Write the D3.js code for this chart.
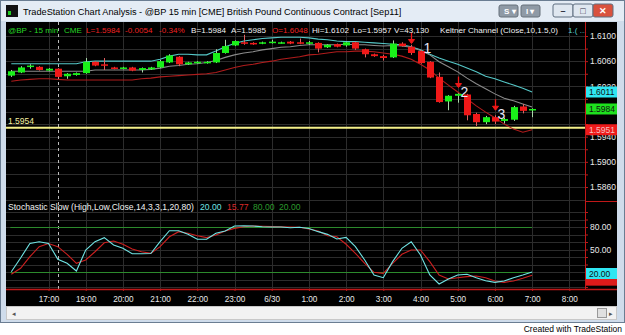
<!DOCTYPE html>
<html>
<head>
<meta charset="utf-8">
<script src="https://cdn.jsdelivr.net/npm/d3@7"></script>
<style>
  body { margin: 0; background: #fff; }
  svg  { display: block; font-family: "Liberation Sans", Arial, sans-serif; }
</style>
</head>
<body>
<svg id="chart" width="625" height="335"></svg>
<script>
/* ---------- data (15 min bars, @BP) ---------- */
const open  = [1.6037,1.6042,1.6052,1.6051,1.6045,1.6048,1.6036,1.6038,1.6041,1.6059,
               1.6055,1.6050,1.6048,1.6050,1.6046,1.6047,1.6050,1.6058,1.6067,1.6055,
               1.6057,1.6057,1.6058,1.6073,1.6085,1.6090,1.6089,1.6088,1.6089,1.6089,
               1.6091,1.6090,1.6088,1.6089,1.6082,1.6087,1.6085,1.6090,1.6079,1.6071,
               1.6068,1.6066,1.6088,1.6083,1.6076,1.6059,1.6035,1.5996,1.6005,1.6007,
               1.5976,1.5963,1.5971,1.5965,1.5967,1.5988,1.5982];
const high  = [1.6046,1.6052,1.6055,1.6052,1.6049,1.6049,1.6041,1.6042,1.6065,1.6060,
               1.6065,1.6051,1.6051,1.6051,1.6050,1.6051,1.6062,1.6071,1.6068,1.6059,
               1.6060,1.6060,1.6079,1.6094,1.6093,1.6102,1.6090,1.6091,1.6094,1.6091,
               1.6092,1.6096,1.6092,1.6090,1.6087,1.6088,1.6091,1.6091,1.6080,1.6072,
               1.6070,1.6093,1.6090,1.6086,1.6078,1.6060,1.6042,1.6006,1.6009,1.6008,
               1.5978,1.5973,1.5974,1.5970,1.5989,1.5992,1.5985];
const low   = [1.6035,1.6041,1.6048,1.6045,1.6044,1.6034,1.6032,1.6037,1.6040,1.6052,
               1.6046,1.6047,1.6047,1.6044,1.6042,1.6046,1.6049,1.6057,1.6052,1.6054,
               1.6056,1.6056,1.6057,1.6072,1.6084,1.6086,1.6086,1.6087,1.6088,1.6088,
               1.6087,1.6087,1.6086,1.6074,1.6081,1.6082,1.6083,1.6078,1.6066,1.6067,
               1.6061,1.6065,1.6083,1.6070,1.6056,1.6033,1.5994,1.5982,1.5994,1.5966,
               1.5957,1.5960,1.5960,1.5961,1.5965,1.5977,1.5971];
const close = [1.6044,1.6050,1.6053,1.6046,1.6048,1.6035,1.6040,1.6041,1.6059,1.6053,
               1.6054,1.6048,1.6050,1.6045,1.6049,1.6050,1.6060,1.6069,1.6055,1.6058,
               1.6059,1.6059,1.6073,1.6084,1.6092,1.6088,1.6087,1.6090,1.6091,1.6090,
               1.6088,1.6088,1.6090,1.6080,1.6086,1.6083,1.6090,1.6080,1.6071,1.6068,
               1.6065,1.6088,1.6084,1.6073,1.6057,1.6034,1.5995,1.6005,1.6008,1.5974,
               1.5963,1.5971,1.5964,1.5968,1.5987,1.5981,1.5984];

// Keltner Channel (Close,10,1.5,0)
const kcUpper = [1.6056,1.6056,1.6056,1.6056,1.6056,1.6056,1.6056,1.6056,1.6059,1.6060,
                 1.6060,1.6060,1.6060,1.6060,1.6060,1.6060,1.6063,1.6068,1.6071,1.6071,
                 1.6070,1.6070,1.6076,1.6083,1.6088,1.6092,1.6094,1.6096,1.6097,1.6098,
                 1.6098,1.6098,1.6097,1.6095,1.6094,1.6092,1.6091,1.6091,1.6090,1.6089,
                 1.6088,1.6087,1.6086,1.6083,1.6078,1.6071,1.6065,1.6060,1.6055,1.6049,
                 1.6043,1.6036,1.6032,1.6027,1.6022,1.6017,1.6011];
const kcMid   = [1.6044,1.6044,1.6044,1.6044,1.6044,1.6044,1.6044,1.6044,1.6044,1.6046,
                 1.6046,1.6046,1.6046,1.6046,1.6046,1.6047,1.6049,1.6052,1.6053,1.6055,
                 1.6056,1.6058,1.6061,1.6066,1.6070,1.6073,1.6075,1.6078,1.6080,1.6082,
                 1.6083,1.6085,1.6086,1.6086,1.6086,1.6086,1.6087,1.6086,1.6086,1.6085,
                 1.6084,1.6085,1.6084,1.6082,1.6077,1.6070,1.6059,1.6051,1.6043,1.6033,
                 1.6024,1.6016,1.6008,1.6001,1.5997,1.5992,1.5987];
const kcLower = [1.6028,1.6030,1.6031,1.6032,1.6032,1.6031,1.6030,1.6030,1.6030,1.6030,
                 1.6030,1.6030,1.6030,1.6030,1.6032,1.6033,1.6035,1.6036,1.6037,1.6038,
                 1.6039,1.6040,1.6042,1.6046,1.6050,1.6053,1.6055,1.6058,1.6060,1.6063,
                 1.6065,1.6067,1.6070,1.6071,1.6073,1.6075,1.6075,1.6076,1.6076,1.6075,
                 1.6073,1.6071,1.6068,1.6063,1.6055,1.6046,1.6033,1.6022,1.6011,1.6000,
                 1.5989,1.5979,1.5970,1.5960,1.5952,1.5947,1.5951];

// Stochastic Slow (High,Low,Close,14,3,3,1,20,80)
const stochK = [20.4,38.7,58,60.4,58,37,31.6,21.3,49.3,60.4,
                65.8,56,51.6,44.4,44.4,44.7,60.4,75,75,70.2,
                63.6,63.6,71.6,74.7,81.3,81.6,81.3,80.4,80,80,
                79,79.6,78,73.8,70.2,64,66.2,53.8,36,16,
                12.4,33.8,51.6,60.4,42.7,16,4,10.7,16,17,
                12.4,8.4,6.2,8,12.4,16,20.0];
const stochD = [17,25,40.4,53.8,58,53.8,43.6,31.6,36,47,
                59,61.3,57,50.7,47,44.9,53.8,67,73.8,71.6,
                68.4,65.8,69.3,74.7,78.2,80.4,81.3,81,80.5,80.2,
                80,79.6,77.3,74.7,68.4,67,57,44.9,31.6,19.6,
                18.2,31.6,43.6,49.3,49.3,33.8,16,10.7,12.4,13.8,
                14.7,12.4,8,6.2,8,11.6,15.77];
const stochLevels = [80, 20];

// axis ticks / labels
const timeTickIdx  = [4, 8, 12, 16, 20, 24, 28, 32, 36, 40, 44, 48, 52, 56, 60];
const timeTickLbl  = ['17:00','19:00','20:00','21:00','22:00','23:00','6/30','1:00',
                      '2:00','3:00','4:00','5:00','6:00','7:00','8:00'];
const priceLabels  = [1.5860, 1.5900, 1.5940, 1.6020, 1.6060, 1.6100];
const priceGrid    = [1.5840, 1.5860, 1.5880, 1.5900, 1.5920, 1.5940, 1.5960, 1.5980,
                      1.6000, 1.6020, 1.6040, 1.6060, 1.6080, 1.6100];
const stochLabels  = [50, 80];
const stochGrid    = [0, 10, 20, 30, 40, 50, 60, 70, 80, 90, 100];
const sessionIdx   = 5;
const supportLevel = 1.5954;
const markIdx      = [43, 48, 52];
const markTip      = [1.6088, 1.6018, 1.5982];
const markLbl      = ['1', '2', '3'];

/* ---------- layout ---------- */
const svg = d3.select('#chart');
const L = 6, R = 585, AX_R = 617;
const TOP = 22, P_BOT = 201, S_BOT = 289;
const FONT = '"Liberation Sans", Arial, sans-serif';

const x  = d3.scaleLinear().domain([0, 56]).range([11.3, 532.1]);
const yP = d3.scaleLinear().domain([1.5860, 1.6100]).range([187, 36]);
const yS = d3.scaleLinear().domain([20, 80]).range([272, 227]);

const C = {
  grid: '#2c2c2c', bull: '#19f019', bear: '#f01818', axis: '#c01818',
  kcUp: '#55c8c8', kcMid: '#8a8a8a', kcLo: '#b01c1c',
  k: '#70e4e4', d: '#cc2020', lvl: '#2c8a2c', text: '#f0f0f0',
};

/* --- window chrome --- */
svg.append('rect').attr('width', 625).attr('height', 335).attr('fill', '#fff');
svg.append('rect').attr('x', 0.5).attr('y', 0.5).attr('width', 624).attr('height', 322)
  .attr('fill', '#cfdceb').attr('stroke', '#6a7d92');
svg.append('rect').attr('x', 1).attr('y', 1).attr('width', 623).attr('height', 20)
  .attr('fill', '#e4ecf5');
svg.append('rect').attr('x', 6).attr('y', 5).attr('width', 12).attr('height', 12).attr('fill', '#111');
svg.append('rect').attr('x', 8).attr('y', 11).attr('width', 3).attr('height', 4).attr('fill', '#2c2');
svg.append('text').attr('x', 23).attr('y', 15).attr('font-size', 9.2).attr('fill', '#000')
  .text('TradeStation Chart Analysis - @BP 15 min [CME] British Pound Continuous Contract [Sep11]');
[[499, 'S'], [521, 'I']].forEach(([bx, t]) => {
  svg.append('rect').attr('x', bx).attr('y', 5).attr('width', 19).attr('height', 12).attr('rx', 2)
    .attr('fill', '#8f9aa6').attr('stroke', '#66707a');
  svg.append('text').attr('x', bx + 5).attr('y', 14).attr('font-size', 8).attr('font-weight', 'bold')
    .attr('fill', '#fff').text(t + ' ▾');
});
[[553, '#dfe7f0', '–'], [573, '#dfe7f0', '□'], [593, '#d9523e', '✕']].forEach(([bx, f, t]) => {
  svg.append('rect').attr('x', bx).attr('y', 4).attr('width', 20).attr('height', 13).attr('rx', 2)
    .attr('fill', f).attr('stroke', '#5f6f80');
  svg.append('text').attr('x', bx + 10).attr('y', 14).attr('text-anchor', 'middle')
    .attr('font-size', 9).attr('font-weight', 'bold').attr('fill', f === '#d9523e' ? '#fff' : '#334').text(t);
});

/* --- chart background --- */
svg.append('rect').attr('x', L).attr('y', TOP).attr('width', AX_R - L).attr('height', 306 - TOP)
  .attr('fill', '#000');

svg.append('clipPath').attr('id', 'clipP').append('rect')
  .attr('x', L).attr('y', TOP).attr('width', R - L).attr('height', P_BOT - TOP);
svg.append('clipPath').attr('id', 'clipS').append('rect')
  .attr('x', L).attr('y', P_BOT).attr('width', R - L).attr('height', S_BOT - P_BOT);

/* --- grids --- */
const grid = svg.append('g').attr('stroke', C.grid).attr('stroke-width', 1);
grid.selectAll('.hp').data(priceGrid).join('line')
  .attr('x1', L).attr('x2', R).attr('y1', d => Math.round(yP(d)) + 0.5).attr('y2', d => Math.round(yP(d)) + 0.5);
grid.selectAll('.hs').data(stochGrid).join('line')
  .attr('x1', L).attr('x2', R).attr('y1', d => Math.round(yS(d)) + 0.5).attr('y2', d => Math.round(yS(d)) + 0.5);
grid.selectAll('.v').data(timeTickIdx).join('line')
  .attr('x1', d => Math.round(x(d)) + 0.5).attr('x2', d => Math.round(x(d)) + 0.5)
  .attr('y1', TOP).attr('y2', S_BOT);

// session break
svg.append('line')
  .attr('x1', Math.round(x(sessionIdx)) + 0.5).attr('x2', Math.round(x(sessionIdx)) + 0.5)
  .attr('y1', TOP).attr('y2', S_BOT)
  .attr('stroke', '#bbb').attr('stroke-dasharray', '3,3');

/* --- price pane --- */
const pp = svg.append('g').attr('clip-path', 'url(#clipP)');

pp.append('line').attr('x1', L).attr('x2', R)
  .attr('y1', yP(supportLevel)).attr('y2', yP(supportLevel))
  .attr('stroke', '#f4f08a').attr('stroke-width', 2);
pp.append('text').attr('x', 8).attr('y', yP(supportLevel) - 4)
  .attr('font-size', 8.5).attr('fill', '#f4f0a0').text(supportLevel.toFixed(4));

const kcLine = arr => d3.line().x((d, i) => x(i)).y(d => yP(d))(arr);
[[kcUpper, C.kcUp], [kcMid, C.kcMid], [kcLower, C.kcLo]].forEach(([arr, col]) => {
  pp.append('path').attr('d', kcLine(arr)).attr('fill', 'none')
    .attr('stroke', col).attr('stroke-width', 1.1);
});

const bars = pp.append('g').selectAll('g').data(open.map((o, i) => i)).join('g');
bars.append('line')
  .attr('x1', i => Math.round(x(i)) + 0.5).attr('x2', i => Math.round(x(i)) + 0.5)
  .attr('y1', i => yP(high[i])).attr('y2', i => yP(low[i]))
  .attr('stroke', i => close[i] >= open[i] ? '#a8d8a8' : '#e06060');
bars.append('rect')
  .attr('x', i => Math.round(x(i)) - 3).attr('width', 7)
  .attr('y', i => yP(Math.max(open[i], close[i])))
  .attr('height', i => Math.max(1.5, Math.abs(yP(open[i]) - yP(close[i]))))
  .attr('fill', i => close[i] >= open[i] ? C.bull : C.bear);

// wave count markers
const markDx = [12, 2, 2];
markIdx.forEach((bi, k) => {
  const ax = Math.round(x(bi)) + 0.5;
  const tipY = yP(markTip[k]);
  pp.append('line').attr('x1', ax).attr('x2', ax).attr('y1', tipY - 11).attr('y2', tipY - 1)
    .attr('stroke', '#f01818').attr('stroke-width', 1.3);
  pp.append('path').attr('d', `M${ax - 3},${tipY - 4}L${ax},${tipY}L${ax + 3},${tipY - 4}Z`)
    .attr('fill', '#f01818').attr('stroke', '#f01818');
  pp.append('text').attr('x', ax + markDx[k]).attr('y', tipY + 9)
    .attr('font-size', 14).attr('fill', '#e6e6f6').text(markLbl[k]);
});

// header legend
const legend = [
  [8, '#26d626', '@BP - 15 min'], [64, '#26d626', 'CME'],
  [86, '#ee2222', 'L=1.5984'], [125, '#ee2222', '-0.0054'], [159, '#ee2222', '-0.34%'],
  [191, C.text, 'B=1.5984'], [231, C.text, 'A=1.5985'], [272, '#ee2222', 'O=1.6048'],
  [312, C.text, 'Hi=1.6102'], [353, C.text, 'Lo=1.5957'], [394, C.text, 'V=43,130'],
  [440, C.text, 'Keltner Channel (Close,10,1.5,0)'], [568, '#55c8c8', '1.( ...'],
];
svg.append('g').selectAll('text').data(legend).join('text')
  .attr('x', d => d[0]).attr('y', 33).attr('font-size', 8.1).attr('fill', d => d[1]).text(d => d[2]);

/* --- stochastic pane --- */
const sp = svg.append('g').attr('clip-path', 'url(#clipS)');
stochLevels.forEach(v => {
  sp.append('line').attr('x1', x(0) - 1).attr('x2', x(56))
    .attr('y1', Math.round(yS(v)) + 0.5).attr('y2', Math.round(yS(v)) + 0.5)
    .attr('stroke', C.lvl);
});
const sLine = arr => d3.line().x((d, i) => x(i)).y(d => yS(d))(arr);
sp.append('path').attr('d', sLine(stochD)).attr('fill', 'none').attr('stroke', C.d).attr('stroke-width', 1.1);
sp.append('path').attr('d', sLine(stochK)).attr('fill', 'none').attr('stroke', C.k).attr('stroke-width', 1.1);

const sLegend = [
  [8, C.text, 'Stochastic Slow (High,Low,Close,14,3,3,1,20,80)'],
  [200, C.k, stochK[56].toFixed(2)], [227, '#dd2a2a', stochD[56].toFixed(2)],
  [253, '#2c9a2c', stochLevels[0].toFixed(2)], [279, '#2c9a2c', stochLevels[1].toFixed(2)],
];
svg.append('g').selectAll('text').data(sLegend).join('text')
  .attr('x', d => d[0]).attr('y', 210).attr('font-size', 8.6).attr('fill', d => d[1]).text(d => d[2]);

/* --- right axes --- */
const axP = svg.append('g').attr('transform', `translate(${R},0)`)
  .call(d3.axisRight(yP).tickValues(priceGrid.filter(v => v >= 1.5860)).tickSize(3).tickPadding(2)
    .tickFormat(v => priceLabels.some(p => Math.abs(p - v) < 1e-6) ? v.toFixed(4) : ''));
const axS = svg.append('g').attr('transform', `translate(${R},0)`)
  .call(d3.axisRight(yS).tickValues(stochGrid).tickSize(3).tickPadding(2)
    .tickFormat(v => stochLabels.includes(v) ? v.toFixed(2) : ''));
[axP, axS].forEach(g => {
  g.select('.domain').remove();
  g.selectAll('line').attr('stroke', C.axis);
  g.selectAll('text').attr('fill', '#e8e8e8').attr('font-size', 8.5).attr('font-family', FONT);
});
axS.selectAll('.tick').filter(v => yS(v) < P_BOT + 3).remove();

svg.append('line').attr('x1', R + 0.5).attr('x2', R + 0.5).attr('y1', TOP).attr('y2', S_BOT)
  .attr('stroke', C.axis);
svg.append('line').attr('x1', R).attr('x2', AX_R).attr('y1', P_BOT + 0.5).attr('y2', P_BOT + 0.5)
  .attr('stroke', C.axis);

// last value boxes
const valBox = (yv, bg, fg, txt) => {
  svg.append('rect').attr('x', R + 1).attr('y', yv - 5.5).attr('width', AX_R - R - 1).attr('height', 11)
    .attr('fill', bg);
  if (txt) svg.append('text').attr('x', R + 4).attr('y', yv + 3.5).attr('font-size', 8.5)
    .attr('font-family', FONT).attr('fill', fg).text(txt);
};
valBox(yP(kcUpper[56]), '#2fe6f2', '#111', kcUpper[56].toFixed(4));
valBox(yP(close[56]), '#1ee01e', '#111', close[56].toFixed(4));
valBox(yP(kcLower[56]), '#ee1a1a', '#f6c0c0', kcLower[56].toFixed(4));
valBox(yS(stochD[56]) + 5, '#dd1a1a', null, null);   // D value tag, hidden under K tag
valBox(yS(stochK[56]) + 1.5, '#2fe6f2', '#111', stochK[56].toFixed(2));

/* --- time axis --- */
const axT = svg.append('g').attr('transform', `translate(0,${S_BOT})`)
  .call(d3.axisBottom(x).tickValues(timeTickIdx).tickSize(2).tickPadding(5)
    .tickFormat((d, i) => timeTickLbl[i]));
axT.select('.domain').remove();
axT.selectAll('line').attr('stroke', C.axis);
axT.selectAll('text').attr('fill', '#e8e8e8').attr('font-size', 8.2).attr('font-family', FONT);
svg.append('line').attr('x1', L).attr('x2', AX_R).attr('y1', S_BOT + 0.5).attr('y2', S_BOT + 0.5)
  .attr('stroke', C.axis).attr('stroke-width', 1.3);

/* --- scrollbar + footer --- */
svg.append('rect').attr('x', L + 0.5).attr('y', 306.5).attr('width', AX_R - L - 1).attr('height', 13)
  .attr('fill', '#f2f2f2').attr('stroke', '#c8c8c8');
svg.append('text').attr('x', 12).attr('y', 316).attr('font-size', 7).attr('fill', '#555').text('◂');
svg.append('rect').attr('x', 597.5).attr('y', 308.5).attr('width', 9).attr('height', 9)
  .attr('fill', '#e0e0e0').attr('stroke', '#999');
svg.append('text').attr('x', 609).attr('y', 316).attr('font-size', 7).attr('fill', '#555').text('▸');
svg.append('text').attr('x', 622).attr('y', 332).attr('text-anchor', 'end')
  .attr('font-size', 8.5).attr('fill', '#000').text('Created with TradeStation');
</script>
</body>
</html>
